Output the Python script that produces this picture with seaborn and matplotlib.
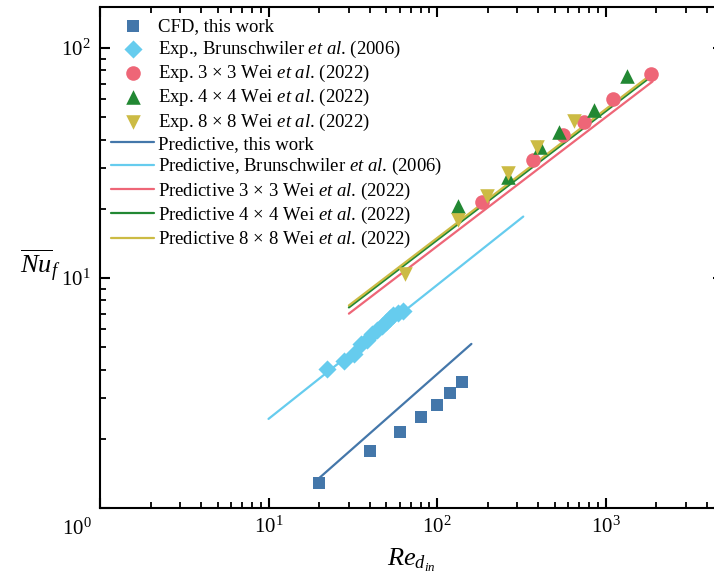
import numpy as np
import pandas as pd
import matplotlib
matplotlib.use("Agg")
import matplotlib.pyplot as plt
import seaborn as sns

# ---------------- data ----------------
cfd_re = [20, 40, 60, 80, 100, 120, 140]
cfd_nu = [1.29, 1.77, 2.13, 2.48, 2.80, 3.15, 3.53]

brun_re = [22.2, 28.1, 32.2, 35.4, 38.4, 41.2, 44.1, 47.2, 49.8, 52.6, 54.8, 58.7, 62.8]
brun_nu = [4.02, 4.36, 4.67, 5.17, 5.37, 5.71, 5.94, 6.19, 6.44, 6.70, 6.91, 7.05, 7.19]

wei3_re = [184, 373, 562, 745, 1112, 1854]
wei3_nu = [21.5, 32.6, 41.9, 47.8, 60.0, 76.9]

wei4_re = [133, 263, 409, 532, 859, 1336]
wei4_nu = [20.6, 27.6, 37.2, 43.3, 53.8, 75.5]

wei8_re = [64.6, 133, 199, 263, 391, 650]
wei8_nu = [10.4, 17.9, 22.7, 28.5, 37.2, 48.3]

# predictive correlations (end points of straight log-log lines)
pred_this_re = [20, 160]
pred_this_nu = [1.35, 5.17]
pred_brun_re = [10, 325]
pred_brun_nu = [2.44, 18.5]
pred_wei3_re = [30, 1900]
pred_wei3_nu = [7.0, 71.5]
pred_wei4_re = [30, 1900]
pred_wei4_nu = [7.45, 76.0]
pred_wei8_re = [30, 1900]
pred_wei8_nu = [7.6, 77.5]

c_blue = "#4477AA"
c_cyan = "#66CCEE"
c_red = "#EE6677"
c_green = "#228833"
c_yellow = "#CCBB44"

# ---------------- style ----------------
sns.set_style("ticks")
plt.rcParams["font.family"] = ["Liberation Serif", "DejaVu Serif"]
plt.rcParams["mathtext.fontset"] = "custom"
plt.rcParams["mathtext.rm"] = "Liberation Serif"
plt.rcParams["mathtext.it"] = "Liberation Serif:italic"
plt.rcParams["mathtext.bf"] = "Liberation Serif:bold"
plt.rcParams.update({
    "text.color": "black", "axes.labelcolor": "black",
    "axes.edgecolor": "black", "axes.linewidth": 1.5,
    "axes.axisbelow": False,
    "xtick.direction": "in", "ytick.direction": "in",
    "xtick.top": True, "ytick.right": True,
    "xtick.bottom": True, "ytick.left": True,
    "xtick.major.size": 7, "ytick.major.size": 7,
    "xtick.minor.size": 4, "ytick.minor.size": 4,
    "xtick.major.width": 1.5, "ytick.major.width": 1.5,
    "xtick.minor.width": 1.3, "ytick.minor.width": 1.3,
    "xtick.color": "black", "ytick.color": "black",
    "xtick.labelsize": 15, "ytick.labelsize": 15,
    "xtick.major.pad": 6, "ytick.major.pad": 7,
})

fig = plt.figure(figsize=(7.14, 5.82), dpi=100)
ax = fig.add_axes([100 / 714, 74 / 582, 623 / 714, 501 / 582])
ax.set_xscale("log")
ax.set_yscale("log")

lw = 1.6
sns.lineplot(x=pred_this_re, y=pred_this_nu, ax=ax, color=c_blue, lw=lw,
             label="Predictive, this work")
sns.lineplot(x=pred_brun_re, y=pred_brun_nu, ax=ax, color=c_cyan, lw=lw,
             label=r"Predictive, Brunschwiler $\it{et\ al}$. (2006)")
sns.lineplot(x=pred_wei3_re, y=pred_wei3_nu, ax=ax, color=c_red, lw=lw,
             label=r"Predictive 3 × 3 Wei $\it{et\ al}$. (2022)")
sns.lineplot(x=pred_wei4_re, y=pred_wei4_nu, ax=ax, color=c_green, lw=lw,
             label=r"Predictive 4 × 4 Wei $\it{et\ al}$. (2022)")
sns.lineplot(x=pred_wei8_re, y=pred_wei8_nu, ax=ax, color=c_yellow, lw=lw,
             label=r"Predictive 8 × 8 Wei $\it{et\ al}$. (2022)")

sns.scatterplot(x=cfd_re, y=cfd_nu, ax=ax, color=c_blue, marker="s", s=80,
                linewidth=0, label="CFD, this work", zorder=3)
sns.scatterplot(x=brun_re, y=brun_nu, ax=ax, color=c_cyan, marker="D", s=85,
                linewidth=0, label=r"Exp., Brunschwiler $\it{et\ al}$. (2006)", zorder=3)
sns.scatterplot(x=wei3_re, y=wei3_nu, ax=ax, color=c_red, marker="o", s=110,
                linewidth=0, label=r"Exp. 3 × 3 Wei $\it{et\ al}$. (2022)", zorder=3)
sns.scatterplot(x=wei4_re, y=wei4_nu, ax=ax, color=c_green, marker="^", s=110,
                linewidth=0, label=r"Exp. 4 × 4 Wei $\it{et\ al}$. (2022)", zorder=3)
sns.scatterplot(x=wei8_re, y=wei8_nu, ax=ax, color=c_yellow, marker="v", s=110,
                linewidth=0, label=r"Exp. 8 × 8 Wei $\it{et\ al}$. (2022)", zorder=3)

ax.set_xlim(1, 4980)
ax.set_ylim(1, 150.8)

# ticks
ax.set_xticks([1, 10, 100, 1000], ["", r"$10^1$", r"$10^2$", r"$10^3$"])
ax.set_yticks([1, 10, 100], ["", r"$10^1$", r"$10^2$"])
ax.xaxis.set_minor_locator(matplotlib.ticker.LogLocator(base=10, subs=np.arange(2, 10), numticks=20))
ax.yaxis.set_minor_locator(matplotlib.ticker.LogLocator(base=10, subs=np.arange(2, 10), numticks=20))
ax.xaxis.set_minor_formatter(matplotlib.ticker.NullFormatter())
ax.yaxis.set_minor_formatter(matplotlib.ticker.NullFormatter())

ax.text(-0.037, -0.042, r"$10^0$", transform=ax.transAxes, ha="center",
        va="center", fontsize=15)

ax.set_xlabel(r"$Re_{d_{in}}$", fontsize=19)
ax.set_ylabel(r"$\overline{Nu}_f$", fontsize=19, rotation=0, va="center")
ax.xaxis.set_label_coords(0.5, -0.078)
ax.yaxis.set_label_coords(-0.096, 0.485)

handles, labels = ax.get_legend_handles_labels()
order = [5, 6, 7, 8, 9, 0, 1, 2, 3, 4]
leg = ax.legend([handles[i] for i in order], [labels[i] for i in order],
                loc="upper left", frameon=False, fontsize=13.5, handlelength=2.3,
                handletextpad=0.2, labelspacing=0.17, borderaxespad=0.4,
                borderpad=0.2)
leg.set_zorder(1)

ax.tick_params(which="both", direction="in", top=True, right=True,
               bottom=True, left=True, colors="black")
ax.tick_params(which="major", length=7, width=1.5, labelsize=15)
ax.tick_params(which="minor", length=4, width=1.3)
ax.xaxis.set_zorder(10)
ax.yaxis.set_zorder(10)
for sp in ax.spines.values():
    sp.set_zorder(11)

fig.canvas.draw()
fig.savefig("out.png", dpi=100)
